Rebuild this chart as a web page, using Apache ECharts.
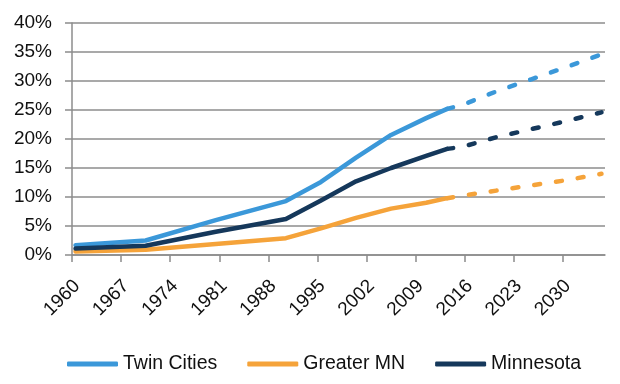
<!DOCTYPE html>
<html>
<head>
<meta charset="utf-8">
<script src="https://cdn.jsdelivr.net/npm/echarts@6/dist/echarts.min.js"></script>
<style>
html,body{margin:0;padding:0;background:#fff;}
#c{width:620px;height:384px;}
</style>
</head>
<body>
<div id="c"></div>
<script>
// Actual (solid) data
var actualYears = [1960, 1970, 1980, 1990, 1995, 2000, 2005, 2010, 2013];
var twinCitiesActual = [1.7, 2.5, 6.0, 9.3, 12.6, 16.8, 20.7, 23.6, 25.2];
var greaterMNActual = [0.6, 0.9, 1.9, 2.9, 4.6, 6.4, 8.0, 9.0, 9.8];
var minnesotaActual = [1.1, 1.6, 4.0, 6.2, 9.4, 12.7, 15.0, 17.1, 18.3];

// Projected (dashed) data
var projYears = [2013, 2015, 2020, 2025, 2030, 2035];
var twinCitiesProj = [25.2, 25.8, 28.2, 30.3, 32.4, 34.6];
var greaterMNProj = [9.8, 10.2, 11.1, 12.0, 12.9, 14.0];
var minnesotaProj = [18.3, 18.6, 20.3, 21.7, 23.1, 24.6];

var xTickLabels = [1960, 1967, 1974, 1981, 1988, 1995, 2002, 2009, 2016, 2023, 2030];
var seriesNames = ['Twin Cities', 'Greater MN', 'Minnesota'];
var colors = ['#3b98d9', '#f5a33a', '#15385b'];

function pairs(xs, ys) { return xs.map(function (x, i) { return [x, ys[i]]; }); }

var font = 'Liberation Sans, Arial, sans-serif';
var actual = [twinCitiesActual, greaterMNActual, minnesotaActual];
var proj = [twinCitiesProj, greaterMNProj, minnesotaProj];
var series = [];
seriesNames.forEach(function (n, i) {
  series.push({
    name: n, type: 'line', data: pairs(actualYears, actual[i]),
    showSymbol: false, symbol: 'none', smooth: false,
    lineStyle: { color: colors[i], width: 4.5, cap: 'round', join: 'round' },
    itemStyle: { color: colors[i] }
  });
});
seriesNames.forEach(function (n, i) {
  series.push({
    name: n + ' (projected)', type: 'line', data: pairs(projYears, proj[i]),
    showSymbol: false, symbol: 'none', smooth: false,
    lineStyle: { color: colors[i], width: 4.5, type: [6, 16], cap: 'round', join: 'round' },
    itemStyle: { color: colors[i] }
  });
});

// Category-style band layout: each year occupies one band, ticks on band edges
var tickEdges = xTickLabels.map(function (y) { return y - 0.5; });
var labelPos = xTickLabels.map(function (y) { return y + 0.2; });

var chart = echarts.init(document.getElementById('c'), null, { renderer: 'canvas' });
chart.setOption({
  animation: false,
  backgroundColor: '#ffffff',
  textStyle: { fontFamily: font },
  grid: { left: 72, right: 15, top: 23, bottom: 129, containLabel: false },
  legend: {
    data: seriesNames.map(function (n, i) {
      return { name: n, icon: 'roundRect', itemStyle: { color: colors[i] } };
    }),
    top: 349, left: 62,
    itemWidth: 51, itemHeight: 5, itemGap: 30,
    textStyle: { fontFamily: font, fontSize: 19.5, color: '#111' }
  },
  xAxis: {
    type: 'value', min: 1959.5, max: 2035.5,
    axisLine: { show: true, lineStyle: { color: '#8c8c8c', width: 1.5 } },
    axisTick: { show: true, length: 7, customValues: tickEdges, lineStyle: { color: '#8c8c8c', width: 1.5 } },
    axisLabel: {
      customValues: labelPos, rotate: 45, margin: 28,
      fontFamily: font, fontSize: 19, color: '#111',
      formatter: function (v) { return String(Math.round(v - 0.2)); }
    },
    splitLine: { show: false }
  },
  yAxis: {
    type: 'value', min: 0, max: 40, interval: 5,
    axisLine: { show: true, lineStyle: { color: '#8c8c8c', width: 1.5 } },
    axisTick: { show: true, length: 7, lineStyle: { color: '#8c8c8c', width: 1.5 } },
    axisLabel: { formatter: '{value}%', fontFamily: font, fontSize: 19, color: '#111', margin: 20 },
    splitLine: { show: true, lineStyle: { color: '#8c8c8c', width: 1.5 } }
  },
  series: series
});
</script>
</body>
</html>
